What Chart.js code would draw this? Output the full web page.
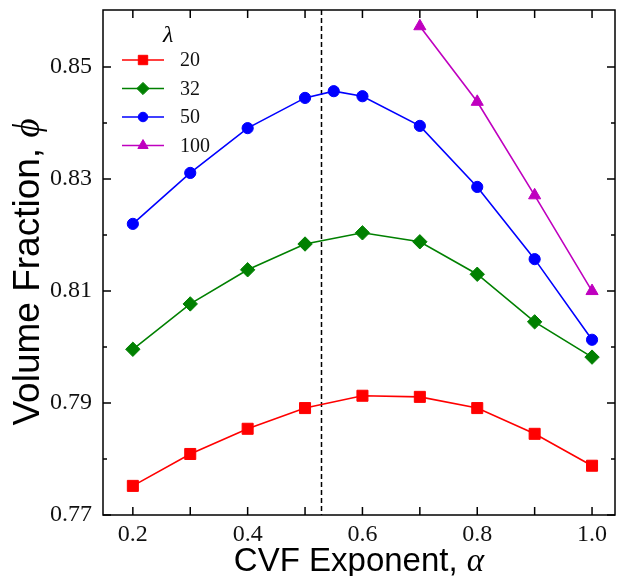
<!DOCTYPE html>
<html>
<head>
<meta charset="utf-8">
<script src="https://cdn.jsdelivr.net/npm/chart.js@4.4.1/dist/chart.umd.min.js"></script>
<style>
body{margin:0;background:#fff}
</style>
</head>
<body>
<canvas id="chart" width="619" height="576"></canvas>
<script>
// values
const alphaValues = [0.2, 0.3, 0.4, 0.5, 0.6, 0.7, 0.8, 0.9, 1.0]
const alpha50 = [0.2, 0.3, 0.4, 0.5, 0.55, 0.6, 0.7, 0.8, 0.9, 1.0]
const alpha100 = [0.7, 0.8, 0.9, 1.0]

const phi20 = [0.7752, 0.7809, 0.7854, 0.7891, 0.7913, 0.7911, 0.7891, 0.7845, 0.7788]
const phi32 = [0.7996, 0.8077, 0.8138, 0.8184, 0.8204, 0.8188, 0.8130, 0.8045, 0.7982]
const phi50 = [0.8220, 0.8311, 0.8391, 0.8445, 0.8457, 0.8448, 0.8395, 0.8286, 0.8157, 0.8013]
const phi100 = [0.8573, 0.8438, 0.8271, 0.8100]

const lambdaLabels = ["20", "32", "50", "100"]
const xTicks = [0.2, 0.4, 0.6, 0.8, 1.0]
const xMinorTicks = [0.2, 0.3, 0.4, 0.5, 0.6, 0.7, 0.8, 0.9, 1.0]
const yTicks = [0.77, 0.79, 0.81, 0.83, 0.85]
const yMinorTicks = [0.78, 0.80, 0.82, 0.84]
const alphaCritical = 0.528

function points(xs, ys){
    return xs.map((x, i) => ({x: x, y: ys[i]}))
}

function makeSet(label, xs, ys, color, style, radius){
    return {
        label: label,
        data: points(xs, ys),
        borderColor: color,
        backgroundColor: color,
        borderWidth: 1.6,
        pointStyle: style,
        pointRadius: radius,
        pointHoverRadius: radius,
        pointBorderWidth: 1,
        pointBorderColor: color,
        pointBackgroundColor: color,
        tension: 0,
        clip: false
    }
}

const serif = "'Liberation Serif', serif"
const sans = "'Liberation Sans', sans-serif"

// axes box, ticks, dashed line, legend and titles
const decorations = {
    id: 'decorations',
    beforeDatasetsDraw(chart){
        const ctx = chart.ctx
        const a = chart.chartArea
        const xs = chart.scales.x
        ctx.save()
        ctx.strokeStyle = 'black'
        ctx.lineWidth = 1.5
        ctx.setLineDash([5, 3])
        const px = Math.round(xs.getPixelForValue(alphaCritical)) + 0.5
        ctx.beginPath()
        ctx.moveTo(px, a.top)
        ctx.lineTo(px, a.bottom)
        ctx.stroke()
        ctx.restore()
    },
    afterDraw(chart){
        const ctx = chart.ctx
        const a = chart.chartArea
        const xs = chart.scales.x
        const ys = chart.scales.y
        ctx.save()
        ctx.strokeStyle = 'black'
        ctx.lineWidth = 1.5
        ctx.strokeRect(a.left, a.top, a.right - a.left, a.bottom - a.top)

        ctx.beginPath()
        xMinorTicks.forEach(v => {
            const p = xs.getPixelForValue(v)
            ctx.moveTo(p, a.bottom); ctx.lineTo(p, a.bottom - 8)
            ctx.moveTo(p, a.top); ctx.lineTo(p, a.top + 8)
        })
        yTicks.forEach(v => {
            const p = ys.getPixelForValue(v)
            ctx.moveTo(a.left, p); ctx.lineTo(a.left + 8, p)
            ctx.moveTo(a.right, p); ctx.lineTo(a.right - 8, p)
        })
        yMinorTicks.forEach(v => {
            const p = ys.getPixelForValue(v)
            ctx.moveTo(a.left, p); ctx.lineTo(a.left + 4, p)
            ctx.moveTo(a.right, p); ctx.lineTo(a.right - 4, p)
        })
        ctx.stroke()

        // legend
        ctx.fillStyle = 'black'
        ctx.font = "italic 24px " + serif
        ctx.textAlign = 'left'
        ctx.textBaseline = 'alphabetic'
        ctx.fillText("λ", a.left + 60, a.top + 32)
        chart.data.datasets.forEach((ds, i) => {
            const y = a.top + 50 + i * 28.5
            ctx.strokeStyle = ds.borderColor
            ctx.lineWidth = 1.6
            ctx.beginPath()
            ctx.moveTo(a.left + 19, y)
            ctx.lineTo(a.left + 61, y)
            ctx.stroke()
            ctx.fillStyle = ds.borderColor
            ctx.lineWidth = 1
            Chart.helpers.drawPoint(ctx, {pointStyle: ds.pointStyle, radius: ds.pointRadius * 0.85, rotation: 0, borderWidth: 1}, a.left + 40, y)
            ctx.fillStyle = '#111'
            ctx.font = "20px " + serif
            ctx.textBaseline = 'middle'
            ctx.fillText(ds.label, a.left + 77, y + 1)
        })

        // axis titles
        ctx.fillStyle = 'black'
        ctx.textBaseline = 'alphabetic'
        const xt = "CVF Exponent, "
        ctx.font = "33px " + sans
        const w1 = ctx.measureText(xt).width
        ctx.font = "italic 33px " + serif
        const w2 = ctx.measureText("α").width
        let x0 = (a.left + a.right) / 2 - (w1 + w2) / 2
        ctx.font = "33px " + sans
        ctx.fillText(xt, x0, 571)
        ctx.font = "italic 33px " + serif
        ctx.fillText("α", x0 + w1, 571)

        ctx.translate(39, 272)
        ctx.rotate(-Math.PI / 2)
        const yt = "Volume Fraction, "
        ctx.font = "37px " + sans
        const v1 = ctx.measureText(yt).width
        ctx.font = "italic 37px " + serif
        const v2 = ctx.measureText("ϕ").width
        x0 = -(v1 + v2) / 2
        ctx.font = "37px " + sans
        ctx.fillText(yt, x0, 0)
        ctx.font = "italic 37px " + serif
        ctx.fillText("ϕ", x0 + v1, 0)
        ctx.restore()
    }
}

new Chart(document.getElementById("chart"), {
    type: 'line',
    data: {
        datasets: [
            makeSet(lambdaLabels[0], alphaValues, phi20, '#ff0000', 'rect', 7.8),
            makeSet(lambdaLabels[1], alphaValues, phi32, '#008000', 'rectRot', 7.2),
            makeSet(lambdaLabels[2], alpha50, phi50, '#0000ff', 'circle', 5.6),
            makeSet(lambdaLabels[3], alpha100, phi100, '#bf00bf', 'triangle', 7)
        ]
    },
    options: {
        responsive: false,
        animation: false,
        layout: {autoPadding: false, padding: {top: 10, right: 4, left: 0, bottom: 0}},
        plugins: {
            legend: {display: false},
            tooltip: {enabled: false}
        },
        scales: {
            x: {
                type: 'linear',
                min: 0.148,
                max: 1.04,
                grid: {display: false, drawTicks: false},
                border: {display: false},
                afterBuildTicks: (scale) => { scale.ticks = xTicks.map(v => ({value: v})) },
                afterFit: (scale) => {
                    scale.height = 61
                    scale.paddingLeft = 0
                    scale.paddingRight = 0
                },
                ticks: {
                    padding: 5,
                    color: '#111',
                    font: {family: serif, size: 24},
                    callback: (v) => Number(v).toFixed(1)
                }
            },
            y: {
                type: 'linear',
                min: 0.77,
                max: 0.8602,
                grid: {display: false, drawTicks: false},
                border: {display: false},
                afterBuildTicks: (scale) => { scale.ticks = yTicks.map(v => ({value: v})) },
                afterFit: (scale) => {
                    scale.width = 103
                    scale.paddingTop = 0
                    scale.paddingBottom = 0
                },
                ticks: {
                    padding: 11,
                    color: '#111',
                    font: {family: serif, size: 24},
                    callback: (v) => Number(v).toFixed(2)
                }
            }
        }
    },
    plugins: [decorations]
});
</script>
</body>
</html>
